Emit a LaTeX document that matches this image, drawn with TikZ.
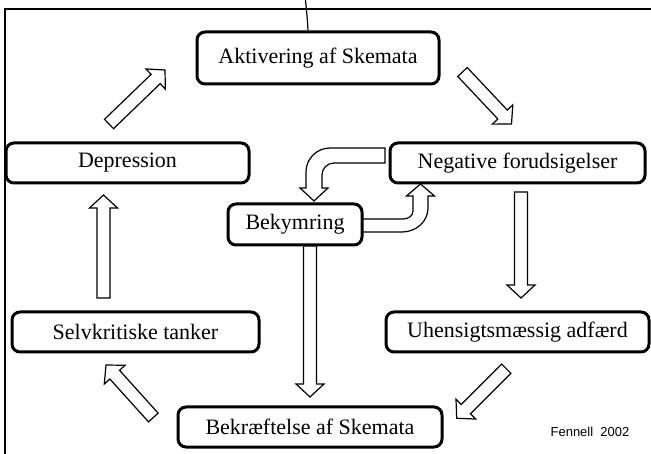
\documentclass[tikz,border=0pt]{standalone}
\usepackage{fontspec}
\setmainfont{Liberation Serif}
\newfontfamily\arialf{Liberation Sans}
\usetikzlibrary{calc}
\tikzset{
  box/.style={draw, line width=3pt, rounded corners=8pt, inner sep=0pt,
    font=\fontsize{22}{24}\selectfont},
  barrow/.style={draw, line width=1.2pt, fill=white, line join=miter},
  frameline/.style={line width=2pt},
}
\newcommand\blockarrow[2]{%
  \coordinate (bah) at ($(#2)!13pt!(#1)$);
  \draw[barrow] ($(#1)!6.5pt!90:(#2)$) -- ($(bah)!6.5pt!90:(#2)$)
    -- ($(bah)!14pt!90:(#2)$) -- (#2) -- ($(bah)!14pt!-90:(#2)$)
    -- ($(bah)!6.5pt!-90:(#2)$) -- ($(#1)!6.5pt!-90:(#2)$) -- cycle;}
\begin{document}
\begin{tikzpicture}[x=1pt,y=-1pt]
\useasboundingbox (0,0) rectangle (651,454);
% frame
\coordinate (fbl) at (5,454);
\coordinate (ftl) at (5,9);
\coordinate (ftr) at (651,9);
\draw[frameline] (fbl) -- (ftl) -- (ftr);
% nodes
\node[box, minimum width=242pt, minimum height=52pt] (akt) at (318,58) {Aktivering af Skemata};
\node[box, minimum width=243pt, minimum height=40pt] (dep) at (127.5,163) {Depression};
\node[box, minimum width=255pt, minimum height=40pt] (neg) at (517.5,163) {Negative forudsigelser};
\node[box, minimum width=134pt, minimum height=41pt] (bky) at (295,224.5) {Bekymring};
\node[box, minimum width=247pt, minimum height=40pt] (selv) at (135.5,332) {Selvkritiske tanker};
\node[box, minimum width=263pt, minimum height=40pt] (uhen) at (517.5,332) {Uhensigtsmæssig adfærd};
\node[box, minimum width=264pt, minimum height=40pt] (bekr) at (310,427) {Bekræftelse af Skemata};
\node[font=\arialf\fontsize{13}{15}\selectfont, anchor=center] (fen) at (590,432) {Fennell\ \ 2002};
% top tick
\coordinate (tk0) at (305.5,0);
\coordinate (tk1) at ($(akt.north)+(-10,0)$);
\draw[line width=1.2pt] (tk0) .. controls (306.5,10) and (307.5,20) .. (tk1);
% straight block arrows
\coordinate (a1t) at (109,124);   \coordinate (a1h) at (165,70);
\coordinate (a2t) at (462.5,72);  \coordinate (a2h) at (511.5,124);
\coordinate (a3t) at (521,192);   \coordinate (a3h) at (521,298);
\coordinate (a4t) at (310,246);   \coordinate (a4h) at (310,397);
\coordinate (a5t) at (506.3,368.7); \coordinate (a5h) at (456.7,418.3);
\coordinate (a6t) at (153.3,417.5); \coordinate (a6h) at (106,365);
\coordinate (a7t) at (103.5,298); \coordinate (a7h) at (103.5,195);
\blockarrow{a1t}{a1h}
\blockarrow{a2t}{a2h}
\blockarrow{a3t}{a3h}
\blockarrow{a4t}{a4h}
\blockarrow{a5t}{a5h}
\blockarrow{a6t}{a6h}
\blockarrow{a7t}{a7h}
% curved arrow: Negative -> Bekymring
\draw[barrow] (385,148) -- (330,148) to[out=180,in=90] (306,172) -- (306,188)
  -- (300,188) -- (314,201) -- (328,188) -- (322,188) -- (322,175)
  to[out=90,in=180] (334,163) -- (385,163) -- cycle;
% curved arrow: Bekymring -> Negative
\draw[barrow] (363,232) -- (402,232) to[out=0,in=-90] (428,208) -- (428,196)
  -- (434.5,196) -- (420.5,184) -- (406.5,196) -- (413,196) -- (413,211)
  to[out=-90,in=0] (403,219) -- (363,219) -- cycle;
\end{tikzpicture}
\end{document}
